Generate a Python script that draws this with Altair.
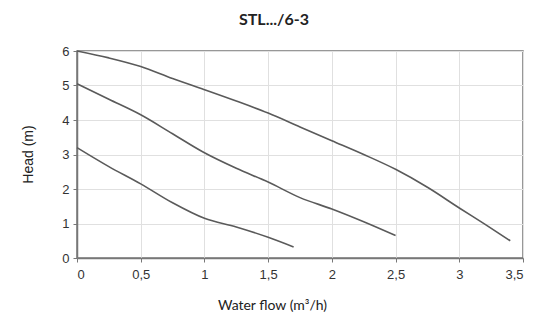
import altair as alt
import pandas as pd

flow_high = [0, 0.25, 0.5, 0.75, 1.0, 1.25, 1.5, 1.75, 2.0, 2.25, 2.5, 2.75, 3.0, 3.2, 3.4]
head_high = [6.0, 5.8, 5.55, 5.2, 4.88, 4.55, 4.2, 3.8, 3.4, 3.0, 2.57, 2.05, 1.45, 0.98, 0.5]

flow_mid = [0, 0.25, 0.5, 0.75, 1.0, 1.25, 1.5, 1.75, 2.0, 2.25, 2.5]
head_mid = [5.05, 4.6, 4.15, 3.6, 3.05, 2.6, 2.2, 1.75, 1.42, 1.05, 0.65]

flow_low = [0, 0.25, 0.5, 0.75, 1.0, 1.25, 1.5, 1.7]
head_low = [3.2, 2.65, 2.15, 1.6, 1.15, 0.9, 0.6, 0.32]

rows = []
for name, fx, hy in [("high", flow_high, head_high), ("mid", flow_mid, head_mid), ("low", flow_low, head_low)]:
    for i, (a, b) in enumerate(zip(fx, hy)):
        rows.append({"curve": name, "order": i, "flow": a, "head": b})
df = pd.DataFrame(rows)

x_ticks = [0, 0.5, 1, 1.5, 2, 2.5, 3, 3.5]
y_ticks = [0, 1, 2, 3, 4, 5, 6]

chart = alt.Chart(df).mark_line(color="#5a5a5a", strokeWidth=1.6, interpolate="monotone").encode(
    x=alt.X("flow:Q", scale=alt.Scale(domain=[0, 3.5], nice=False),
            axis=alt.Axis(values=x_ticks,
                          labelExpr="replace(format(datum.value, '~g'), '.', ',')",
                          labelFont="Arial", labelFontSize=13, labelColor="#333",
                          title="Water flow (m³/h)", titleX=195, titleY=47,
                          titleBaseline="middle",
                          titleFont="Lato", titleFontWeight="normal", titleFontSize=14,
                          titleColor="#222", labelPadding=6)),
    y=alt.Y("head:Q", scale=alt.Scale(domain=[0, 6], nice=False),
            axis=alt.Axis(values=y_ticks, title="Head (m)", titleX=-49, titleY=103,
                          titleBaseline="middle",
                          labelFont="Arial", labelFontSize=13, labelColor="#333",
                          titleFont="Arial", titleFontWeight="normal",
                          titleFontSize=14, titleColor="#222", labelPadding=4)),
    detail="curve:N",
    order="order:Q",
).properties(
    width=446, height=207,
    autosize=alt.AutoSizeParams(type="none"),
    padding={"left": 69, "top": 43, "right": 15, "bottom": 63},
    title=alt.Title("STL.../6-3", font="Lato", fontSize=16, fontWeight="bold",
                    color="#222", dx=-26, offset=17),
).configure_axis(
    gridColor="#e0e0e0", gridWidth=1, domainColor="#777", domainWidth=1.5,
    tickColor="#777", tickSize=4,
).configure_view(
    stroke="#777", strokeWidth=1.5
)

chart.save("out.html", embed_options={"renderer": "svg", "actions": False})
